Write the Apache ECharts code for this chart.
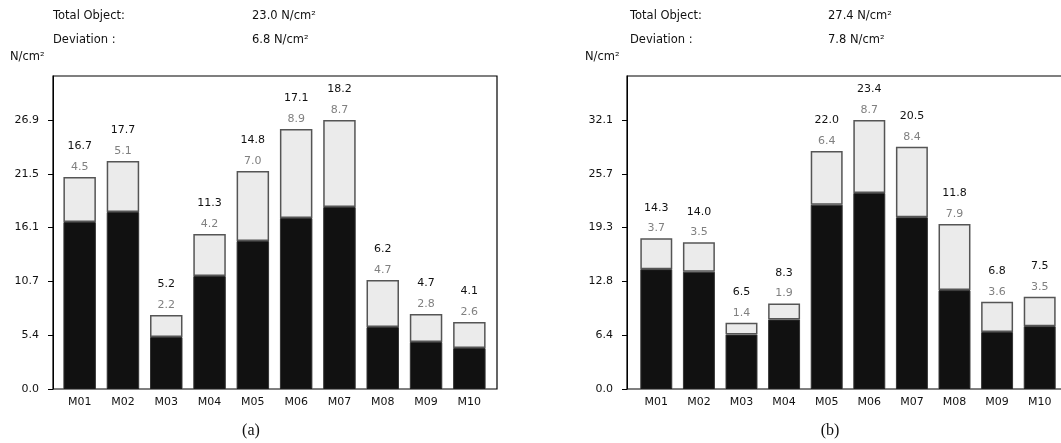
<!DOCTYPE html>
<html>
<head>
<meta charset="utf-8">
<script src="https://cdn.jsdelivr.net/npm/echarts@6/dist/echarts.min.js"></script>
<style>
html,body{margin:0;padding:0;background:#fff;}
#c{width:1061px;height:443px;}
</style>
</head>
<body>
<div id="c"></div>
<script>
// ---- data ----
const categories = ['M01','M02','M03','M04','M05','M06','M07','M08','M09','M10'];
const meanA = [16.7, 17.7, 5.2, 11.3, 14.8, 17.1, 18.2, 6.2, 4.7, 4.1];
const devA  = [4.5, 5.1, 2.2, 4.2, 7.0, 8.9, 8.7, 4.7, 2.8, 2.6];
const meanB = [14.3, 14.0, 6.5, 8.3, 22.0, 23.4, 20.5, 11.8, 6.8, 7.5];
const devB  = [3.7, 3.5, 1.4, 1.9, 6.4, 8.7, 8.4, 7.9, 3.6, 3.5];
const tickLabelsA = ['0.0','5.4','10.7','16.1','21.5','26.9'];
const tickLabelsB = ['0.0','6.4','12.8','19.3','25.7','32.1'];
const axisMaxA = 31.3, tickStepA = 5.38;
const axisMaxB = 37.35, tickStepB = 6.42;
const totalObject = ['23.0 N/cm\u00b2', '27.4 N/cm\u00b2'];
const deviation = ['6.8 N/cm\u00b2', '7.8 N/cm\u00b2'];
const unitLabel = 'N/cm\u00b2';
const captions = ['(a)', '(b)'];

const FONT = 'DejaVu Sans';
const chart = echarts.init(document.getElementById('c'), null, {renderer:'canvas'});

function yAxis(gridIndex, max, step, labels, offset){
  return {
    type:'value', gridIndex, min:0, max, interval:step, offset,
    axisLine:{show:true, lineStyle:{color:'#000', width:1}},
    axisTick:{show:true, length:5, lineStyle:{color:'#000'}},
    splitLine:{show:false},
    axisLabel:{
      showMaxLabel:false, margin:14, color:'#111', fontFamily:FONT, fontSize:11,
      formatter:(v, i) => labels[i] !== undefined ? labels[i] : ''
    }
  };
}
function xAxis(gridIndex){
  return {
    type:'category', gridIndex, data:categories,
    axisLine:{show:false}, axisTick:{show:false},
    axisLabel:{margin:8, color:'#111', fontFamily:FONT, fontSize:11}
  };
}
function barSeries(idx, mean, dev){
  return [
    {
      type:'bar', xAxisIndex:idx, yAxisIndex:idx, stack:'s'+idx, data:mean,
      barWidth:'75%',
      itemStyle:{color:'#111111', borderColor:'#333', borderWidth:1},
      silent:true
    },
    {
      type:'bar', xAxisIndex:idx, yAxisIndex:idx, stack:'s'+idx, data:dev,
      barWidth:'75%',
      itemStyle:{color:'#ebebeb', borderColor:'#555', borderWidth:1.5},
      silent:true,
      label:{
        show:true, position:'top', distance:0,
        formatter:(p) => '{a|' + mean[p.dataIndex].toFixed(1) + '}\n{b|' + dev[p.dataIndex].toFixed(1) + '}',
        rich:{
          a:{color:'#111', fontFamily:FONT, fontSize:11, lineHeight:21},
          b:{color:'#808080', fontFamily:FONT, fontSize:11, lineHeight:20}
        }
      }
    }
  ];
}

function txt(x, y, t, opts){
  return Object.assign({
    type:'text', x, y,
    style:Object.assign({text:t, fill:'#111', font:'11.5px "'+FONT+'"', textVerticalAlign:'middle'}, opts||{})
  });
}

const graphics = [];
const panels = [
  {frame:[53, 76, 444, 313], tx:53, vx:252, ux:10, cx:251},
  {frame:[627, 76, 447, 313], tx:630, vx:828, ux:585, cx:830}
];
panels.forEach((p, i) => {
  graphics.push({type:'rect', shape:{x:p.frame[0], y:p.frame[1], width:p.frame[2], height:p.frame[3]},
    style:{fill:'none', stroke:'#000', lineWidth:1.2}, z:10});
  graphics.push(txt(p.tx, 16, 'Total Object:'));
  graphics.push(txt(p.vx, 16, totalObject[i]));
  graphics.push(txt(p.tx, 40, 'Deviation :'));
  graphics.push(txt(p.vx, 40, deviation[i]));
  graphics.push(txt(p.ux, 57, unitLabel));
  graphics.push({type:'text', x:p.cx, y:431,
    style:{text:captions[i], fill:'#111', font:'16px "Liberation Serif"', textAlign:'center', textVerticalAlign:'middle'}});
});

chart.setOption({
  animation:false,
  backgroundColor:'#fff',
  grid:[
    {left:58, top:76, width:433, height:313},
    {left:635, top:76, width:433, height:313}
  ],
  xAxis:[xAxis(0), xAxis(1)],
  yAxis:[yAxis(0, axisMaxA, tickStepA, tickLabelsA, 5), yAxis(1, axisMaxB, tickStepB, tickLabelsB, 8)],
  series:[...barSeries(0, meanA, devA), ...barSeries(1, meanB, devB)],
  graphic:graphics
});
</script>
</body>
</html>
